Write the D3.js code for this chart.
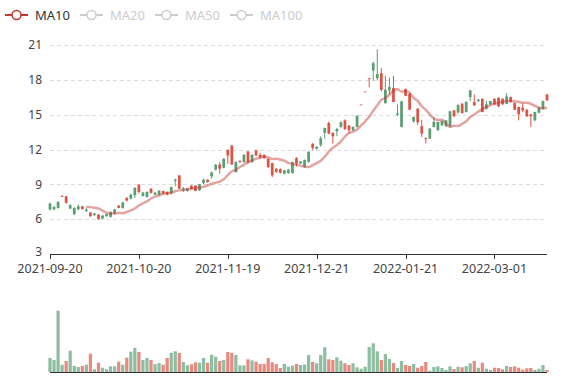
<!DOCTYPE html>
<html><head><meta charset="utf-8">
<script src="https://cdn.jsdelivr.net/npm/d3@7/dist/d3.min.js"></script>
<style>body{margin:0;background:#fff}svg{display:block}</style>
</head><body><svg id="c" width="577" height="380"></svg>
<script>
// ---- data ----
const dates = [
"2021-09-20","2021-09-21","2021-09-22","2021-09-23","2021-09-24","2021-09-27","2021-09-28","2021-09-29","2021-09-30","2021-10-01",
"2021-10-04","2021-10-05","2021-10-06","2021-10-07","2021-10-08","2021-10-11","2021-10-12","2021-10-13","2021-10-14","2021-10-15",
"2021-10-18","2021-10-19","2021-10-20","2021-10-21","2021-10-22","2021-10-25","2021-10-26","2021-10-27","2021-10-28","2021-10-29",
"2021-11-01","2021-11-02","2021-11-03","2021-11-04","2021-11-05","2021-11-08","2021-11-09","2021-11-10","2021-11-11","2021-11-12",
"2021-11-15","2021-11-16","2021-11-17","2021-11-18","2021-11-19","2021-11-22","2021-11-23","2021-11-24","2021-11-25","2021-11-26",
"2021-11-29","2021-11-30","2021-12-01","2021-12-02","2021-12-03","2021-12-06","2021-12-07","2021-12-08","2021-12-09","2021-12-10",
"2021-12-13","2021-12-14","2021-12-15","2021-12-16","2021-12-17","2021-12-20","2021-12-21","2021-12-22","2021-12-23","2021-12-24",
"2021-12-27","2021-12-28","2021-12-29","2021-12-30","2021-12-31","2022-01-04","2022-01-05","2022-01-06","2022-01-07","2022-01-10",
"2022-01-11","2022-01-12","2022-01-13","2022-01-14","2022-01-17","2022-01-18","2022-01-19","2022-01-20","2022-01-21","2022-01-24",
"2022-01-25","2022-01-26","2022-01-27","2022-01-28","2022-02-07","2022-02-08","2022-02-09","2022-02-10","2022-02-11","2022-02-14",
"2022-02-15","2022-02-16","2022-02-17","2022-02-18","2022-02-21","2022-02-22","2022-02-23","2022-02-24","2022-02-25","2022-02-28",
"2022-03-01","2022-03-02","2022-03-03","2022-03-04","2022-03-07","2022-03-08","2022-03-09","2022-03-10","2022-03-11","2022-03-14",
"2022-03-15","2022-03-16","2022-03-17","2022-03-18"];
const opens = [7.34,7.06,7.49,8.00,7.40,7.20,6.97,7.11,6.86,6.83, 6.26,6.49,6.00,6.31,6.43,6.63,6.83,6.97,7.43,7.60,
 8.11,8.69,8.34,8.29,8.34,8.26,8.29,8.46,8.20,8.11, 8.77,9.40,8.63,8.63,8.63,8.60,8.43,9.00,9.40,9.20,
 10.03,10.69,10.34,11.20,11.49,10.71,10.91,11.00,11.54,10.91, 11.54,11.49,11.34,11.26,10.49,9.77,10.06,10.00,10.20,10.26,
 10.91,10.77,10.97,11.09,11.80,12.14,12.23,12.97,13.86,13.37, 13.14,13.77,14.34,13.77,13.66,13.94,14.91,15.88,17.00,18.14,
 19.43,18.49,17.14,17.14,17.37,16.09,15.09,16.14,16.63,15.43, 14.80,14.34,13.37,12.91,13.80,14.37,14.37,14.46,14.51,15.29,
 14.86,15.83,15.14,16.09,17.09,15.80,16.29,15.23,15.89,16.17, 15.89,15.71,15.89,16.57,16.09,15.43,15.03,15.37,14.86,14.86,
 15.23,15.60,16.17,16.23];
const closes = [6.83,6.86,6.97,8.00,7.97,6.91,6.43,6.86,7.11,6.69, 6.57,6.34,6.40,6.06,6.26,6.20,6.49,7.17,6.97,7.83,
 7.77,8.06,8.97,8.00,7.91,8.63,8.11,8.11,8.43,8.34, 8.20,9.29,9.77,8.49,8.43,8.89,8.89,8.49,9.11,9.40,
 9.69,10.26,10.71,10.43,11.97,12.34,10.06,11.00,10.91,11.83, 10.91,11.91,11.54,11.54,11.20,10.83,10.34,10.31,9.91,9.97,
 9.97,11.26,10.80,10.51,10.94,12.49,12.06,12.40,13.43,14.29, 13.43,13.57,13.94,14.51,14.06,13.66,13.94,15.88,17.00,18.14,
 18.80,18.14,18.57,16.00,17.09,17.29,14.97,13.94,17.20,16.80, 14.43,15.51,14.00,13.00,12.94,13.94,13.66,14.09,14.00,14.00,
 15.37,15.20,15.94,15.23,16.51,16.09,16.17,16.37,15.51,15.89, 16.37,16.46,16.37,15.94,16.51,16.00,15.66,15.60,15.43,15.03,
 14.51,15.17,15.51,16.74];
const lows = [6.74,6.74,6.91,7.92,7.35,6.86,6.34,6.77,6.83,6.63, 6.20,6.30,5.95,6.00,6.20,6.14,6.43,6.94,6.90,7.54,
 7.70,7.83,8.20,7.95,7.86,8.20,8.06,8.06,8.14,8.06, 8.14,8.83,8.60,8.34,8.37,8.57,8.40,8.43,9.00,9.14,
 9.49,10.20,9.91,10.37,10.77,10.66,10.00,10.83,10.86,10.77, 10.86,11.43,11.20,11.20,10.40,9.63,10.00,9.94,9.86,9.91,
 9.94,10.54,10.74,10.43,10.86,11.94,12.00,12.23,12.91,13.30, 12.51,13.14,13.86,13.66,13.40,13.60,13.90,15.88,17.00,17.37,
 17.94,17.94,17.00,15.94,16.74,16.06,14.91,13.90,16.60,15.40, 14.30,14.10,13.09,12.51,12.90,13.89,13.60,14.00,13.95,13.89,
 14.80,15.10,15.10,15.20,16.17,15.75,16.10,15.20,15.45,15.85, 15.85,15.65,15.85,15.90,16.05,15.40,14.51,15.20,14.80,13.94,
 14.45,15.10,15.45,16.20];
const highs = [7.43,7.11,7.54,8.06,8.00,7.29,7.03,7.26,7.14,6.97, 6.60,6.52,6.43,6.35,6.50,6.66,6.89,7.20,7.50,7.89,
 8.20,8.77,9.00,8.35,8.40,8.66,8.34,8.50,8.46,8.40, 8.80,9.49,9.80,8.77,8.66,8.92,8.92,9.03,9.49,9.43,
 10.09,10.74,10.91,11.26,12.00,12.40,11.00,11.11,11.60,11.86, 11.60,12.00,11.69,11.57,11.23,10.86,10.40,10.37,10.26,10.31,
 10.94,11.34,11.00,11.14,11.86,12.55,12.30,13.14,13.86,14.40, 13.49,13.86,14.43,14.60,14.10,14.00,14.94,15.88,17.00,18.14,
 19.57,20.63,19.00,18.34,18.20,18.34,15.86,16.20,17.25,16.86, 14.86,15.57,14.57,13.03,13.86,14.80,14.40,14.50,14.55,15.30,
 15.40,15.90,16.00,16.15,17.14,16.74,16.35,16.40,16.20,16.20, 16.40,16.50,16.40,16.86,16.55,16.05,15.70,15.97,15.46,15.06,
 15.26,15.65,16.20,16.78];
const volumes = [14.0,12.0,61.3,7.3,11.0,21.3,6.0,5.0,6.0,7.3, 18.3,2.7,9.3,4.3,2.7,5.7,5.7,10.3,7.3,14.3,
 20.3,24.0,20.0,12.0,14.0,12.0,8.0,9.0,7.3,14.0, 19.3,20.7,19.0,10.0,6.7,7.7,9.7,9.3,14.0,9.3,
 17.3,15.3,11.0,12.0,20.0,19.0,17.0,6.7,6.7,12.7, 11.7,10.3,8.0,8.0,14.0,9.7,8.0,4.0,8.0,5.3,
 6.3,8.0,7.0,7.5,17.0,10.0,8.7,17.0,24.7,12.7, 12.0,14.7,11.3,8.7,7.0,8.7,4.7,3.3,5.3,25.0,
 28.7,20.7,12.0,18.0,13.0,9.0,4.0,11.0,7.0,6.0, 8.0,4.3,6.0,10.0,1.3,5.0,5.7,4.0,2.0,5.7,
 3.0,5.3,4.7,6.0,8.7,11.0,4.3,9.3,3.3,2.0, 4.3,4.0,2.7,6.0,5.0,5.7,4.3,2.3,3.7,4.0,
 2.0,3.3,7.0,2.0].map(v => v * 1000);
const legendNames = ["MA10","MA20","MA50","MA100"];
const yTicks = [3,6,9,12,15,18,21];
const labelEvery = 22;

// ---- style ----
const upColor = "#dd5344", downColor = "#5a9e74";
const maColor = "#c23531";

const svg = d3.select("#c");
const left = 50, right = 547;
const x = d3.scalePoint().domain(dates).range([left, right]);
const step = x.step();
const y = d3.scaleLinear().domain([3, 21]).range([254, 45]);
const yv = d3.scaleLinear().domain([0, 72000]).range([372, 300]);

const font = "'Noto Sans', 'Liberation Sans', sans-serif";
const textColor = "#444";

// grid lines
svg.append("g").selectAll("line").data(yTicks.slice(1)).join("line")
  .attr("x1", left).attr("x2", right)
  .attr("y1", d => Math.round(y(d)) + 0.5).attr("y2", d => Math.round(y(d)) + 0.5)
  .attr("stroke", "#dcdcdc").attr("stroke-dasharray", "4,3");

// y labels
svg.append("g").selectAll("text").data(yTicks).join("text")
  .attr("x", 42).attr("y", d => y(d) - (d === 3 ? 2.5 : 0)).attr("dy", "0.35em")
  .attr("text-anchor", "end").attr("font-family", font).attr("font-size", 12)
  .attr("fill", textColor).text(d => d);

// x axis
const xa = svg.append("g");
xa.append("line").attr("x1", left).attr("x2", right).attr("y1", 254.5).attr("y2", 254.5).attr("stroke", "#333");
const labelIdx = dates.map((d, i) => i).filter(i => i % labelEvery === 0);
xa.selectAll("line.t").data(labelIdx).join("line").attr("class", "t")
  .attr("x1", i => Math.round(x(dates[i])) + 0.5).attr("x2", i => Math.round(x(dates[i])) + 0.5)
  .attr("y1", 254).attr("y2", 259).attr("stroke", "#333");
xa.selectAll("text").data(labelIdx).join("text")
  .attr("x", i => x(dates[i])).attr("y", 272.5)
  .attr("text-anchor", "middle").attr("font-family", font).attr("font-size", 12.5)
  .attr("fill", textColor).text(i => dates[i]);

// candles
function sign(i) {
  if (closes[i] > opens[i]) return 1;
  if (closes[i] < opens[i]) return -1;
  return i > 0 && closes[i] > closes[i - 1] ? 1 : -1;
}
const bw = step * 0.68;
const cg = svg.append("g");
dates.forEach((d, i) => {
  const c = sign(i) > 0 ? upColor : downColor;
  const cx = x(d);
  cg.append("line").attr("x1", cx).attr("x2", cx)
    .attr("y1", y(highs[i])).attr("y2", y(lows[i])).attr("stroke", c).attr("stroke-width", 1);
  const top = y(Math.max(opens[i], closes[i])), bot = y(Math.min(opens[i], closes[i]));
  cg.append("rect").attr("x", cx - bw / 2).attr("y", top)
    .attr("width", bw).attr("height", Math.max(bot - top, 0.8)).attr("fill", c);
});

// MA10
const ma = dates.map((d, i) => {
  if (i < 9) return null;
  return d3.mean(closes.slice(i - 9, i + 1));
});
svg.append("path").datum(dates.map((d, i) => [d, ma[i]]).filter(p => p[1] != null))
  .attr("fill", "none").attr("stroke", maColor).attr("stroke-opacity", 0.45).attr("stroke-width", 2.5)
  .attr("d", d3.line().x(p => x(p[0])).y(p => y(p[1])).curve(d3.curveMonotoneX));

// volume
const vw = step * 0.8;
svg.append("g").selectAll("rect").data(dates).join("rect")
  .attr("x", d => x(d) - vw / 2).attr("width", vw)
  .attr("y", (d, i) => yv(volumes[i])).attr("height", (d, i) => 372 - yv(volumes[i]))
  .attr("fill", (d, i) => closes[i] > opens[i] ? upColor : downColor).attr("fill-opacity", 0.68);
svg.append("line").attr("x1", left).attr("x2", right).attr("y1", 372.5).attr("y2", 372.5).attr("stroke", "#333");

// legend
const lg = svg.append("g");
let lx = 5;
legendNames.forEach((n, k) => {
  const on = k === 0;
  const col = on ? maColor : "#ccc";
  const g = lg.append("g");
  g.append("line").attr("x1", lx).attr("x2", lx + 23).attr("y1", 15).attr("y2", 15)
    .attr("stroke", col).attr("stroke-width", 2);
  g.append("circle").attr("cx", lx + 11.5).attr("cy", 15).attr("r", 4.5)
    .attr("fill", "#fff").attr("stroke", col).attr("stroke-width", 1.5);
  const t = g.append("text").attr("x", lx + 30).attr("y", 15).attr("dy", "0.35em")
    .attr("font-family", font).attr("font-size", 13).attr("fill", on ? "#333" : "#ccc").text(n);
  lx += 30 + t.node().getComputedTextLength() + 10;
});
</script></body></html>
